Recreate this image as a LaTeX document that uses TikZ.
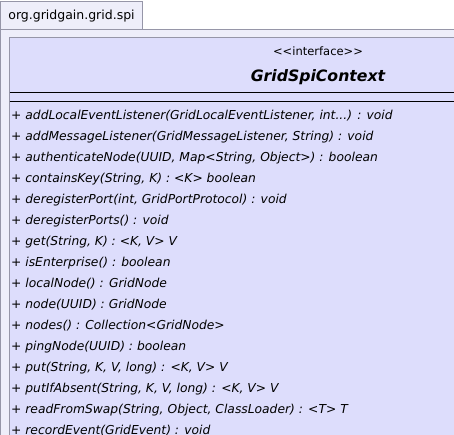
\documentclass[tikz,border=0pt]{standalone}
\usepackage{fontspec}
\setmainfont{DejaVu Sans}[Ligatures=TeXOff]
\usetikzlibrary{positioning}
\definecolor{pkgfill}{RGB}{238,238,250}
\definecolor{classfill}{RGB}{221,221,252}
\definecolor{framegray}{RGB}{150,150,168}

\begin{document}
\begin{tikzpicture}[x=1pt, y=-1pt, every node/.style={inner sep=0pt},
	op/.style={anchor=base west, font=\fontsize{12.3}{14}\selectfont\itshape}]
			\useasboundingbox (0,0) rectangle (454,434);
			\clip (0,0) rectangle (454,434);
			% package tab and package body
			\filldraw[fill=pkgfill, draw=framegray] (0.5,1.5) rectangle (142,29.5);
			\filldraw[fill=pkgfill, draw=framegray] (0.5,29.5) rectangle (470,450);
			\node (pkg) at (71.5,16) {\fontsize{12.5}{14}\selectfont org.gridgain.grid.spi};
			% class box
			\filldraw[fill=classfill, draw=framegray] (9.5,37.5) rectangle (630,450);
			\node (stereo) at (318,51) {\fontsize{11.5}{13}\selectfont <<interface>>};
			\node (cls) at (318,77) {\fontsize{15.7}{18}\selectfont\bfseries\itshape GridSpiContext};
			\coordinate (sepa) at (9.5,92);
			\coordinate (sepb) at (9.5,101);
			\draw (sepa) -- ++(630,0);
			\draw (sepb) -- ++(630,0);
			% operations
			\node[op] (m1) at (11,119.5) {+ addLocalEventListener(GridLocalEventListener, int...) : void};
			\node[op] (m2) at (11,140.5) {+ addMessageListener(GridMessageListener, String) : void};
			\node[op] (m3) at (11,161.5) {+ authenticateNode(UUID, Map<String, Object>) : boolean};
			\node[op] (m4) at (11,182.5) {+ containsKey(String, K) : <K> boolean};
			\node[op] (m5) at (11,203.5) {+ deregisterPort(int, GridPortProtocol) : void};
			\node[op] (m6) at (11,224.5) {+ deregisterPorts() : void};
			\node[op] (m7) at (11,245.5) {+ get(String, K) : <K, V> V};
			\node[op] (m8) at (11,266.5) {+ isEnterprise() : boolean};
			\node[op] (m9) at (11,287.5) {+ localNode() : GridNode};
			\node[op] (m10) at (11,308.5) {+ node(UUID) : GridNode};
			\node[op] (m11) at (11,329.5) {+ nodes() : Collection<GridNode>};
			\node[op] (m12) at (11,350.5) {+ pingNode(UUID) : boolean};
			\node[op] (m13) at (11,371.5) {+ put(String, K, V, long) : <K, V> V};
			\node[op] (m14) at (11,392.5) {+ putIfAbsent(String, K, V, long) : <K, V> V};
			\node[op] (m15) at (11,413.5) {+ readFromSwap(String, Object, ClassLoader) : <T> T};
			\node[op] (m16) at (11,434.5) {+ recordEvent(GridEvent) : void};
		\end{tikzpicture}
\end{document}
